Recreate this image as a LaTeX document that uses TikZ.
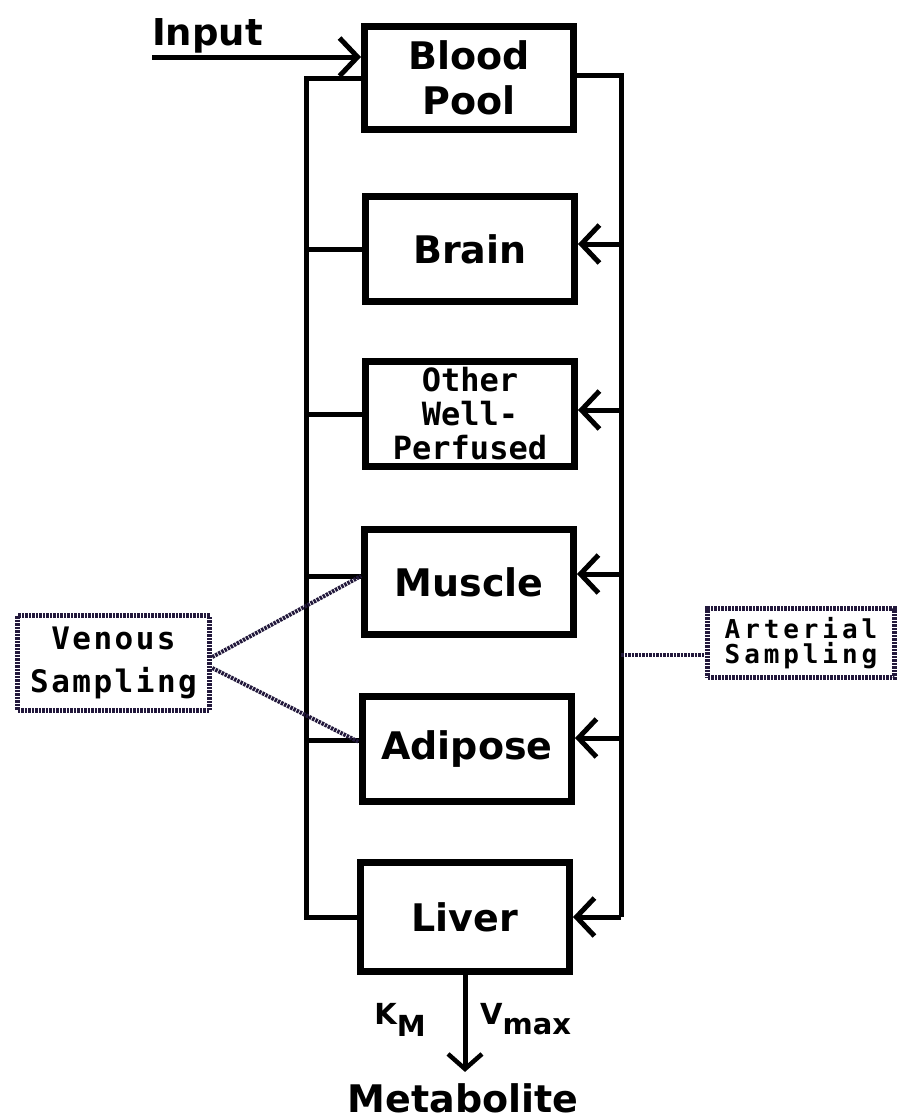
\documentclass[tikz,border=0pt]{standalone}
\usepackage{fontspec}
\setmainfont{DejaVu Sans}
\newfontfamily\chic{DejaVu Sans}
\newfontfamily\monof{DejaVu Sans Mono}
\newfontfamily\monow[LetterSpace=8]{DejaVu Sans Mono}
\newfontfamily\monoa[LetterSpace=15]{DejaVu Sans Mono}
\usetikzlibrary{arrows.meta}
\definecolor{sampcol}{RGB}{35,25,60}
\begin{document}
\begin{tikzpicture}[x=1pt,y=-1pt,
  organ/.style={draw, line width=7pt, minimum width=209pt, minimum height=105pt,
    inner sep=0pt, align=center, font=\chic\bfseries\fontsize{38}{45}\selectfont},
  conn/.style={line width=5pt},
  barb/.style={-{Straight Barb[length=18pt,width=38pt,line width=5pt]}},
  smallbarb/.style={-{Straight Barb[length=15pt,width=34pt,line width=4.5pt]}},
  samp/.style={draw=sampcol, line width=5.5pt, dash pattern=on 2.5pt off 1pt,
    inner sep=0pt, align=center},
  sampline/.style={draw=sampcol, line width=4pt, dash pattern=on 2.5pt off 1pt},
  lab/.style={inner sep=0pt, font=\chic\bfseries\fontsize{37}{44}\selectfont},
  small/.style={inner sep=0pt, font=\chic\bfseries\fontsize{29}{34}\selectfont}
]
\path[use as bounding box, fill=white] (0,0) rectangle (905,1120);

% organ boxes
\node[organ, minimum height=103pt] (blood) at (469,78) {Blood\\Pool};
\node[organ] (brain) at (470,249) {Brain};
\node[organ, font=\monof\bfseries\fontsize{32}{34}\selectfont] (other) at (470,414) {Other\\Well-\\Perfused};
\node[organ] (muscle) at (469,582) {Muscle};
\node[organ] (adipose) at (467,749) {Adipose};
\node[organ, minimum height=109pt] (liver) at (465,917) {Liver};

% vertical rails
\coordinate (lx) at (306,0);
\coordinate (rx) at (621,0);

% venous return (left)
\draw[conn] (blood.west) -- (blood.west -| lx) -- (liver.west -| lx) -- (liver.west);
\draw[conn] (brain.west -| lx) -- (brain.west);
\draw[conn] (other.west -| lx) -- (other.west);
\draw[conn] ([yshift=6pt]muscle.west -| lx) -- ([yshift=6pt]muscle.west);
\draw[conn] ([yshift=9pt]adipose.west -| lx) -- ([yshift=9pt]adipose.west);

% arterial supply (right)
\draw[conn] ([yshift=3pt]blood.east) -- ([yshift=3pt]blood.east -| rx) -- (liver.east -| rx);
\draw[conn,barb] (liver.east -| rx) -- (liver.east);
\draw[conn,barb] ([yshift=5pt]brain.east -| rx) -- ([yshift=5pt]brain.east);
\draw[conn,barb] ([yshift=4pt]other.east -| rx) -- ([yshift=4pt]other.east);
\draw[conn,barb] ([yshift=8pt]muscle.east -| rx) -- ([yshift=8pt]muscle.east);
\draw[conn,barb] ([yshift=11pt]adipose.east -| rx) -- ([yshift=11pt]adipose.east);

% input
\node[lab, anchor=base west] (inlab) at (152,45) {Input};
\coordinate (instart) at (152,57);
\draw[conn,barb] (instart) -- (instart -| blood.west);

% metabolism
\node[lab, font=\chic\bfseries\fontsize{38}{44}\selectfont, anchor=base] (meta) at (463,1112) {Metabolite};
\draw[conn,smallbarb,shorten >=11pt] (liver.south) -- (liver.south |- meta.north);
\node[small, anchor=base east] (km) at (426,1024) {K\raisebox{-12pt}{M}};
\node[small, anchor=base west] (vmax) at (480,1024) {V\raisebox{-10pt}{max}};

% sampling
\node[samp, minimum width=192pt, minimum height=95pt,
      font=\monow\bfseries\fontsize{31}{43}\selectfont] (ven) at (113.5,663) {Venous\\Sampling};
\node[samp, minimum width=187pt, minimum height=69pt,
      font=\monoa\bfseries\fontsize{26}{25}\selectfont] (art) at (801,643) {Arterial\\Sampling};
\draw[sampline] ([yshift=6pt]ven.east) -- ([yshift=6pt]muscle.west);
\draw[sampline] ([yshift=-5pt]ven.east) -- ([yshift=7pt]adipose.west);
\coordinate (aj) at (621,655);
\draw[sampline] (aj) -- (aj -| art.west);
\end{tikzpicture}
\end{document}
